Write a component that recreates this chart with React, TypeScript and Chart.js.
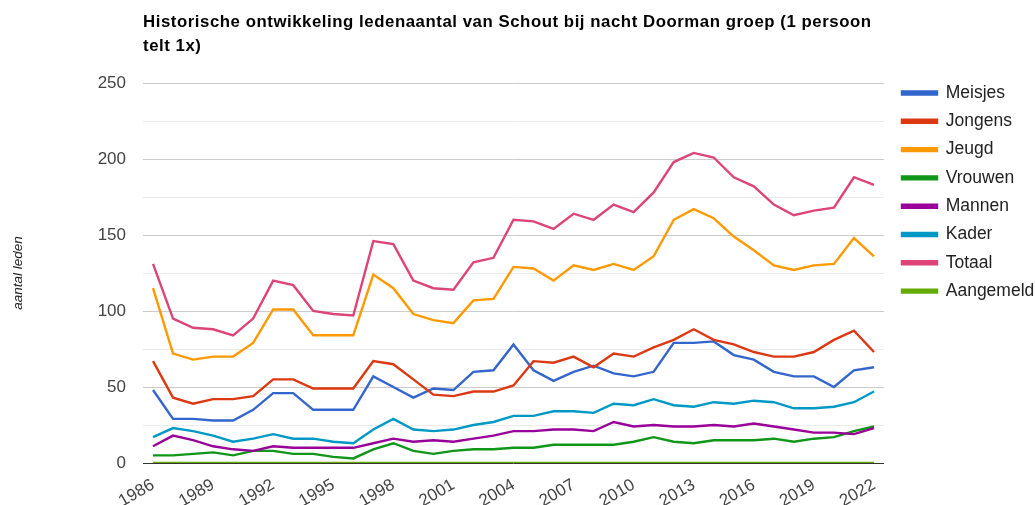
import React, { useEffect, useRef } from "react";
import { Chart, registerables } from "chart.js";

Chart.register(...registerables);

const years = [
  "1986", "1987", "1988", "1989", "1990", "1991", "1992", "1993", "1994", "1995",
  "1996", "1997", "1998", "1999", "2000", "2001", "2002", "2003", "2004", "2005",
  "2006", "2007", "2008", "2009", "2010", "2011", "2012", "2013", "2014", "2015",
  "2016", "2017", "2018", "2019", "2020", "2021", "2022",
];

const meisjes = [48, 29, 29, 28, 28, 35, 46, 46, 35, 35, 35, 57, 50, 43, 49, 48, 60, 61, 78, 61, 54, 60, 64, 59, 57, 60, 79, 79, 80, 71, 68, 60, 57, 57, 50, 61, 63];
const jongens = [67, 43, 39, 42, 42, 44, 55, 55, 49, 49, 49, 67, 65, 55, 45, 44, 47, 47, 51, 67, 66, 70, 63, 72, 70, 76, 81, 88, 81, 78, 73, 70, 70, 73, 81, 87, 73];
const jeugd = [115, 72, 68, 70, 70, 79, 101, 101, 84, 84, 84, 124, 115, 98, 94, 92, 107, 108, 129, 128, 120, 130, 127, 131, 127, 136, 160, 167, 161, 149, 140, 130, 127, 130, 131, 148, 136];
const vrouwen = [5, 5, 6, 7, 5, 8, 8, 6, 6, 4, 3, 9, 13, 8, 6, 8, 9, 9, 10, 10, 12, 12, 12, 12, 14, 17, 14, 13, 15, 15, 15, 16, 14, 16, 17, 21, 24];
const mannen = [11, 18, 15, 11, 9, 8, 11, 10, 10, 10, 10, 13, 16, 14, 15, 14, 16, 18, 21, 21, 22, 22, 21, 27, 24, 25, 24, 24, 25, 24, 26, 24, 22, 20, 20, 19, 23];
const kader = [17, 23, 21, 18, 14, 16, 19, 16, 16, 14, 13, 22, 29, 22, 21, 22, 25, 27, 31, 31, 34, 34, 33, 39, 38, 42, 38, 37, 40, 39, 41, 40, 36, 36, 37, 40, 47];
const totaal = [131, 95, 89, 88, 84, 95, 120, 117, 100, 98, 97, 146, 144, 120, 115, 114, 132, 135, 160, 159, 154, 164, 160, 170, 165, 178, 198, 204, 201, 188, 182, 170, 163, 166, 168, 188, 183];
const aangemeld = [0, 0, 0, 0, 0, 0, 0, 0, 0, 0, 0, 0, 0, 0, 0, 0, 0, 0, 0, 0, 0, 0, 0, 0, 0, 0, 0, 0, 0, 0, 0, 0, 0, 0, 0, 0, 0];

const seriesNames = ["Meisjes", "Jongens", "Jeugd", "Vrouwen", "Mannen", "Kader", "Totaal", "Aangemeld"];
const seriesValues = [meisjes, jongens, jeugd, vrouwen, mannen, kader, totaal, aangemeld];
const seriesColors = ["#3366cc", "#dc3912", "#ff9900", "#109618", "#990099", "#0099c6", "#dd4477", "#66aa00"];

const titleLines = ["Historische ontwikkeling ledenaantal van Schout bij nacht Doorman groep (1 persoon", "telt 1x)"];
const yTitle = "aantal leden";

const FONT = "'Liberation Sans', Arial, sans-serif";

const legendPlacer = {
  id: "legendPlacer",
  beforeLayout(chart: any) {
    const lg = chart.legend;
    if (lg && !lg.__patched) {
      const orig = lg.fit.bind(lg);
      lg.fit = function () {
        orig();
        lg.width = 151;
      };
      lg.__patched = true;
    }
  },
  afterLayout(chart: any) {
    const lg = chart.legend;
    if (lg) {
      const pad = 10.8;
      const fs = 17.5;
      const w = lg.width;
      const h = lg.height;
      lg.left = 902 - pad;
      lg.right = lg.left + w;
      lg.top = 93 - fs / 2 - pad;
      lg.bottom = lg.top + h;
    }
  },
};

export default function App() {
  const ref = useRef<HTMLCanvasElement | null>(null);

  useEffect(() => {
    if (!ref.current) return;
    const n = seriesNames.length;
    const chart = new Chart(ref.current, {
      type: "line",
      data: {
        labels: years,
        datasets: seriesNames.map((name, i) => ({
          label: name,
          data: seriesValues[i],
          borderColor: seriesColors[i],
          backgroundColor: seriesColors[i],
          borderWidth: 2.4,
          pointRadius: 0,
          pointHoverRadius: 0,
          tension: 0,
          fill: false,
          order: n - 1 - i,
        })),
      },
      options: {
        animation: false,
        responsive: false,
        maintainAspectRatio: false,
        devicePixelRatio: 1,
        layout: { padding: { top: 83, left: 0, right: 0, bottom: 0 } },
        plugins: {
          title: { display: false },
          tooltip: { enabled: false },
          legend: {
            display: true,
            position: "right",
            align: "start",
            fullSize: false,
            labels: {
              boxWidth: 35,
              boxHeight: 3,
              padding: 10.8,
              color: "#222",
              font: { family: FONT, size: 17.5 },
              sort: (a: any, b: any) => a.datasetIndex - b.datasetIndex,
            },
          },
        },
        scales: {
          x: {
            type: "category",
            offset: true,
            grid: { display: false, drawTicks: false },
            border: { display: false },
            ticks: {
              autoSkip: false,
              minRotation: 30,
              maxRotation: 30,
              padding: 12,
              color: "#444",
              font: { family: FONT, size: 17 },
              callback: (_v: any, i: number) => (i % 3 === 0 ? years[i] : ""),
            },
            afterFit: (s: any) => {
              s.height = 42;
            },
          },
          y: {
            min: 0,
            max: 250,
            border: { display: false },
            grid: {
              drawTicks: false,
              lineWidth: 1,
              color: (ctx: any) =>
                ctx.tick && ctx.tick.value === 0
                  ? "#333"
                  : ctx.tick && ctx.tick.value % 50 === 0
                  ? "#cccccc"
                  : "#ebebeb",
            },
            ticks: {
              stepSize: 25,
              padding: 17,
              color: "#444",
              font: { family: FONT, size: 17 },
              callback: (v: any) => (Number(v) % 50 === 0 ? String(v) : ""),
            },
            title: {
              display: true,
              text: yTitle,
              color: "#222",
              font: { family: FONT, size: 13.5, style: "italic" },
              padding: { top: 10, bottom: 0 },
            },
            afterFit: (s: any) => {
              s.width = 143;
            },
          },
        },
      },
      plugins: [legendPlacer],
    } as any);
    return () => chart.destroy();
  }, []);

  return (
    <div style={{ position: "absolute", left: 0, top: 0, width: 1035, height: 505, background: "#fff" }}>
      <canvas ref={ref} width={1035} height={505} style={{ position: "absolute", left: 0, top: 0, width: 1035, height: 505 }} />
      <div
        style={{
          position: "absolute",
          left: 143,
          top: 10,
          fontFamily: FONT,
          fontWeight: "bold",
          fontSize: 16.8,
          letterSpacing: "0.55px",
          lineHeight: "24px",
          color: "#000",
          whiteSpace: "nowrap",
        }}
      >
        {titleLines[0]}
        <br />
        {titleLines[1]}
      </div>
    </div>
  );
}
